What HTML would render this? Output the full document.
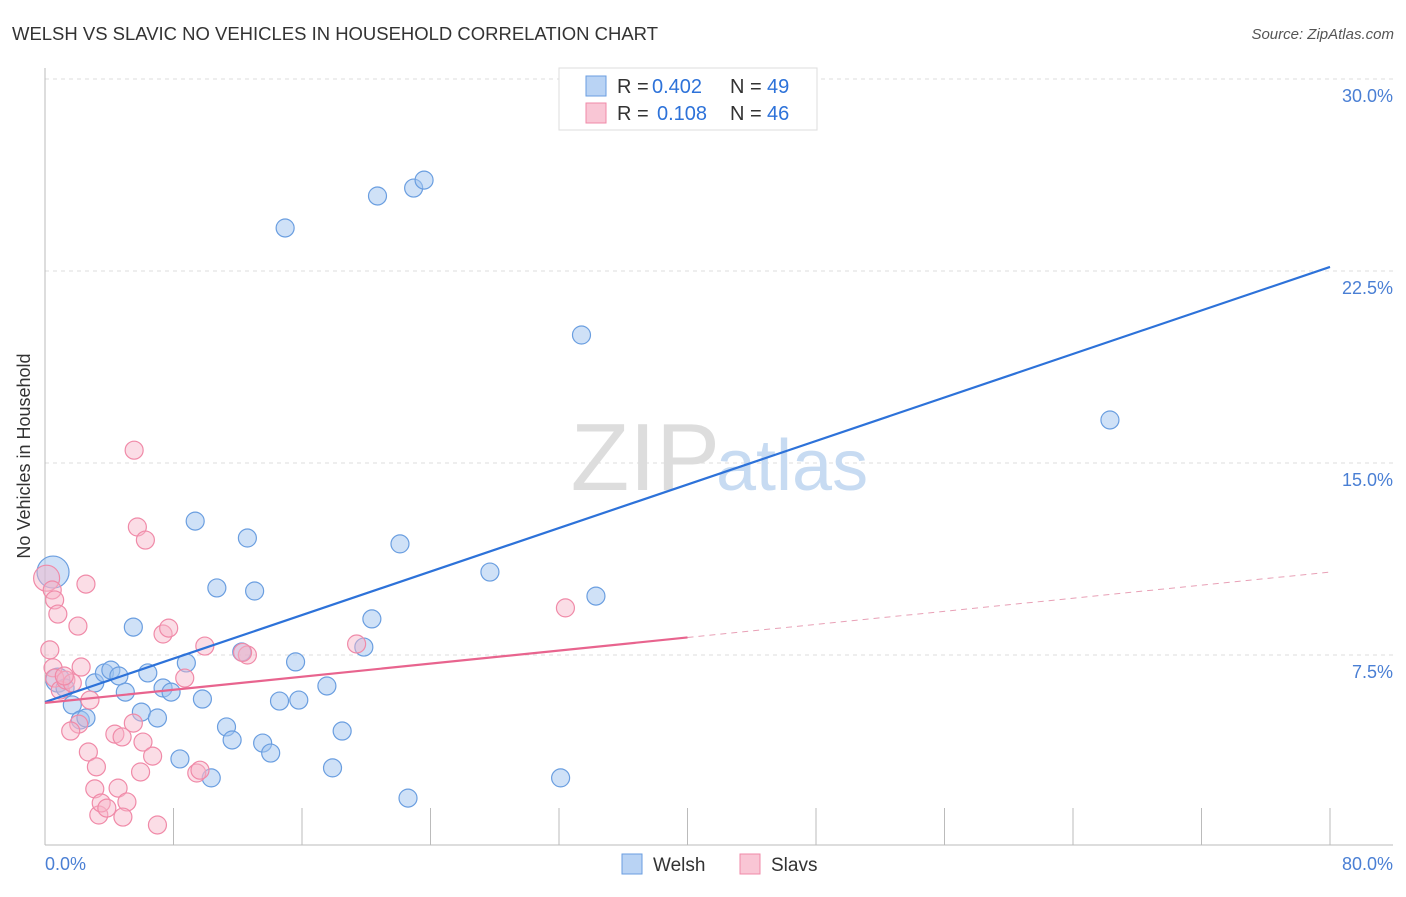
<!DOCTYPE html>
<html><head><meta charset="utf-8"><style>
body{margin:0;background:#fff;font-family:"Liberation Sans",sans-serif;}
svg text{font-family:"Liberation Sans",sans-serif;}
</style></head><body>
<svg id="chart" width="1406" height="892">
<text x="12" y="40" font-size="18" fill="#333" textLength="646" lengthAdjust="spacingAndGlyphs">WELSH VS SLAVIC NO VEHICLES IN HOUSEHOLD CORRELATION CHART</text>
<text x="1394" y="39" font-size="15" fill="#555" text-anchor="end" font-style="italic">Source: ZipAtlas.com</text>
<text x="30" y="456" font-size="18" fill="#333" text-anchor="middle" transform="rotate(-90 30 456)">No Vehicles in Household</text>
<g id="grid"></g>
<text x="720" y="490" font-size="96" fill="#ddd" font-family="Liberation Serif" text-anchor="end">ZIP</text>
<text x="716" y="490" font-size="72" fill="#c7dbf2">atlas</text>
<g id="axes"></g>
<g id="pts"></g>
<g id="lines"></g>
<g>
<rect x="559" y="68" width="258" height="62" fill="#fff" stroke="#ddd"/>
<rect x="586" y="76" width="20" height="20" fill="#b9d3f4" stroke="#6a9ee0"/>
<rect x="586" y="103" width="20" height="20" fill="#f9c6d5" stroke="#f08aa8"/>
<text y="93" font-size="20" fill="#333"><tspan x="617">R =</tspan><tspan x="652" fill="#2d72d9">0.402</tspan><tspan x="730">N =</tspan><tspan x="767" fill="#2d72d9">49</tspan></text>
<text y="120" font-size="20" fill="#333"><tspan x="617">R =</tspan><tspan x="657" fill="#2d72d9">0.108</tspan><tspan x="730">N =</tspan><tspan x="767" fill="#2d72d9">46</tspan></text>
</g>
<g>
<rect x="622" y="854" width="20" height="20" fill="#b9d3f4" stroke="#6a9ee0"/>
<text x="653" y="871" font-size="19" fill="#333">Welsh</text>
<rect x="740" y="854" width="20" height="20" fill="#f9c6d5" stroke="#f08aa8"/>
<text x="771" y="871" font-size="19" fill="#333">Slavs</text>
</g>
</svg>
<script>
const welshX=[0.5,0.8,1.25,1.7,2.2,2.55,3.1,3.7,4.1,4.6,5.0,5.5,6.0,6.4,7.0,7.35,7.85,8.4,8.8,9.35,9.8,10.35,10.7,11.3,11.65,12.25,12.6,13.05,13.55,14.05,14.6,14.95,15.6,15.8,17.55,17.9,18.5,19.85,20.35,20.7,22.1,22.6,22.95,23.6,27.7,32.1,33.4,34.3,66.3];
const welshY=[10.74,6.52,6.21,5.55,4.96,5.04,6.41,6.8,6.91,6.68,6.05,8.59,5.27,6.8,5.04,6.21,6.05,3.44,7.19,12.73,5.78,2.7,10.12,4.69,4.18,7.62,12.07,10.0,4.06,3.67,5.7,24.18,7.23,5.74,6.29,3.09,4.53,7.81,8.91,25.43,11.84,1.91,25.74,26.05,10.74,2.7,20.0,9.8,16.68];
const slavsX=[0.1,0.45,0.6,0.8,0.3,0.5,0.6,0.95,1.3,1.7,2.25,2.1,2.55,2.05,1.6,2.8,2.7,3.2,3.1,3.35,3.5,3.85,4.35,4.55,4.8,5.1,4.85,5.55,5.75,6.25,5.5,5.95,6.1,6.7,7.0,7.35,7.7,8.7,9.45,9.65,9.95,12.6,19.4,32.4,1.2,12.3];
const slavsY=[10.5,10.04,9.65,9.1,7.7,7.0,6.6,6.13,6.52,6.41,7.03,4.8,10.27,8.63,4.53,5.74,3.71,3.13,2.27,1.25,1.72,1.52,4.41,2.3,4.3,1.76,1.17,15.5,12.5,11.99,4.84,2.93,4.1,3.55,0.86,8.32,8.55,6.6,2.89,3.0,7.85,7.5,7.93,9.34,6.68,7.6];
const yTicks=[7.5,15,22.5,30];
const yTickLabels=["7.5%","15.0%","22.5%","30.0%"];
const xTickLabels=["0.0%","80.0%"];
const welshTrend=[5.66,22.66];
const slavsTrend=[5.63,10.74];
const slavsSolidEnd=40;
const NS="http://www.w3.org/2000/svg";
const sx=v=>45+v/80*1285;
const sy=v=>847-v/7.5*192;
function mk(tag,parent,attrs){const e=document.createElementNS(NS,tag);for(const k in attrs)e.setAttribute(k,attrs[k]);parent.appendChild(e);return e;}
const grid=document.getElementById('grid'),axes=document.getElementById('axes'),pts=document.getElementById('pts'),lines=document.getElementById('lines');
yTicks.forEach((t,i)=>{
 const l=mk('line',grid,{x1:45,x2:1393,y1:sy(t),y2:sy(t),stroke:'#ddd','stroke-dasharray':'4,4'});
 
 
 const tx=mk('text',axes,{x:1393,y:sy(t)+23,'font-size':18,fill:'#4a7fd4','text-anchor':'end'});
 tx.textContent=yTickLabels[i];
 
 
});
let a=mk('line',axes,{x1:45,x2:45,y1:68,y2:845,stroke:'#bbb'});


a=mk('line',axes,{x1:45,x2:1393,y1:845,y2:845,stroke:'#bbb'});


for(let v=8;v<=80;v+=8){
 const t=mk('line',axes,{x1:sx(v),x2:sx(v),y1:808,y2:845,stroke:'#bbb'});
 
 
}
[[0,'start',45],[80,'end',1393]].forEach((d,i)=>{
 const tx=mk('text',axes,{x:d[2],y:870,'font-size':18,fill:'#4a7fd4','text-anchor':d[1]});
 tx.textContent=xTickLabels[i];
 
 
});
welshX.forEach((x,i)=>{
 const c=mk('circle',pts,{cx:sx(x),cy:sy(welshY[i]),r:i===0?16:(i===1?12:9),fill:'rgba(160,195,240,0.5)',stroke:'#6a9ee0','stroke-width':1.2});
 
 
});
slavsX.forEach((x,i)=>{
 const c=mk('circle',pts,{cx:sx(x),cy:sy(slavsY[i]),r:i===0?13:9,fill:'rgba(247,180,200,0.45)',stroke:'#f08aa8','stroke-width':1.2});
 
 
});
let ln=mk('line',lines,{x1:sx(0),y1:sy(welshTrend[0]),x2:sx(80),y2:sy(welshTrend[1]),stroke:'#2d72d9','stroke-width':2.2});


const sMid=slavsTrend[0]+(slavsTrend[1]-slavsTrend[0])*slavsSolidEnd/80;
ln=mk('line',lines,{x1:sx(0),y1:sy(slavsTrend[0]),x2:sx(slavsSolidEnd),y2:sy(sMid),stroke:'#e8648e','stroke-width':2.2});


ln=mk('line',lines,{x1:sx(slavsSolidEnd),y1:sy(sMid),x2:sx(80),y2:sy(slavsTrend[1]),stroke:'#e8a0b6','stroke-width':1,'stroke-dasharray':'6,5'});


</script>
</body></html>
